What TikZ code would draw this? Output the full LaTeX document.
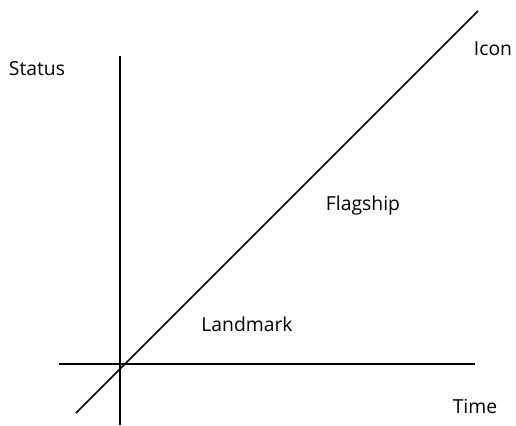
\documentclass[tikz,border=0pt]{standalone}
\usepackage{fontspec}
\setmainfont{Open Sans}
\usepackage{tikz}
\usetikzlibrary{positioning,calc}
\tikzset{
  axis/.style={draw=black,line width=1.1pt},
  trend/.style={draw=black,line width=1.1pt},
  lbl/.style={font=\fontsize{14.5}{17}\selectfont,inner sep=0pt,anchor=center}
}

\begin{document}
\begin{tikzpicture}[x=0.75pt,y=-0.75pt]
  \useasboundingbox (0,0) rectangle (516,425);
  \coordinate (ytop) at (120,56);
  \coordinate (ybot) at (120,425);
  \coordinate (xleft) at (59,364);
  \coordinate (xright) at (475,364);
  \coordinate (tstart) at (76,413);
  \coordinate (tend) at (478,11);

  \node[lbl] (status) at (37,69) {Status};
  \node[lbl] (icon) at (493,49) {Icon};
  \node[lbl] (flagship) at (363,205) {Flagship};
  \node[lbl] (landmark) at (247,324) {Landmark};
  \node[lbl] (time) at (475,406) {Time};

  \draw[axis] (ytop) -- (ybot);
  \draw[axis] (xleft) -- (xright);
  \draw[trend] (tstart) -- (tend);
\end{tikzpicture}
\end{document}
